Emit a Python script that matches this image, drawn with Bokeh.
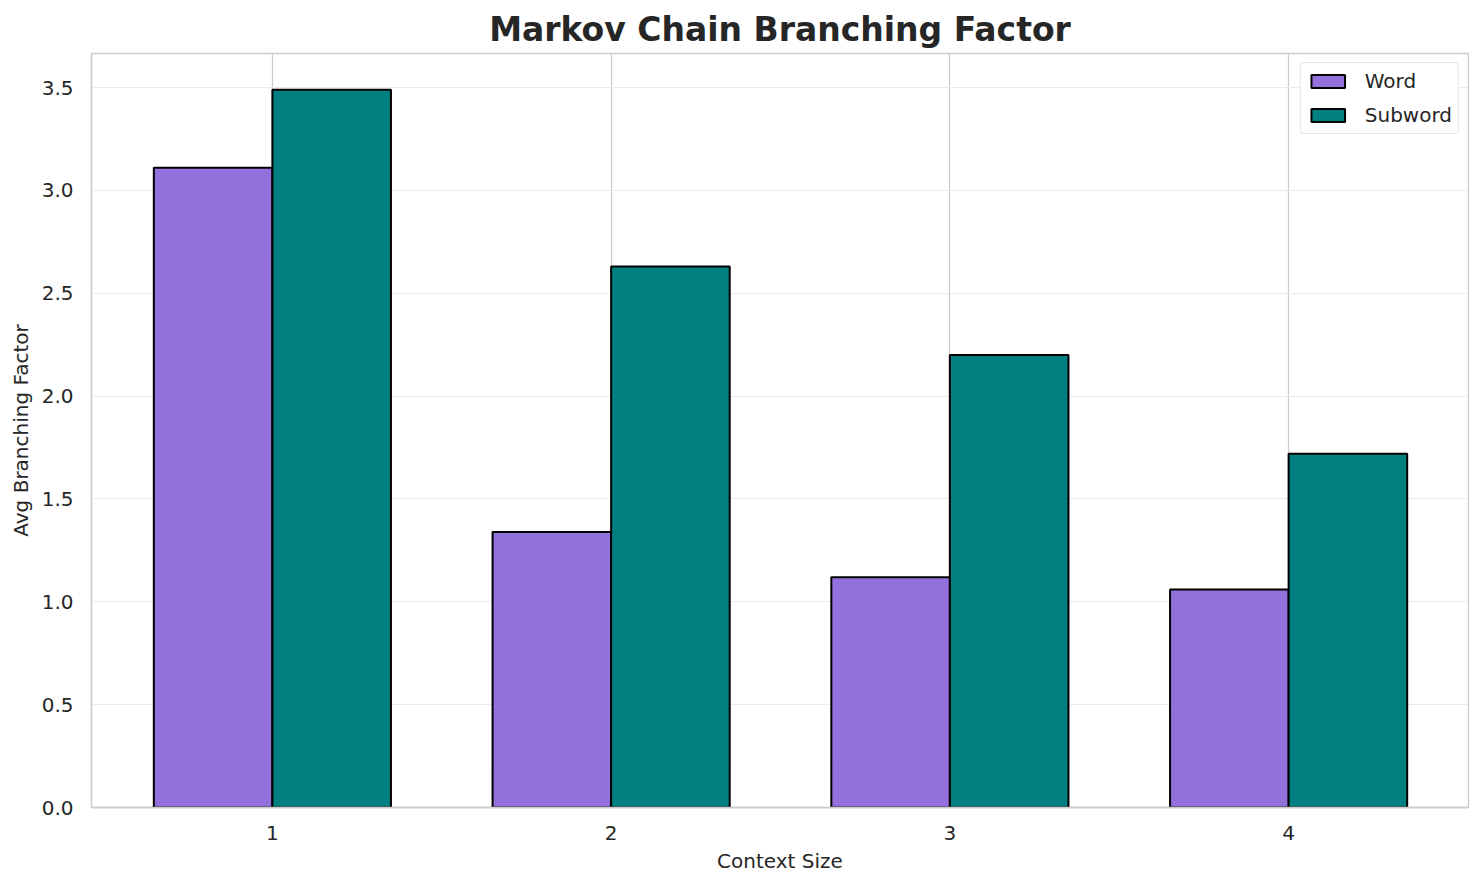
from bokeh.plotting import figure
from bokeh.models import Range1d, Legend, LegendItem, FixedTicker, CustomJSTickFormatter
from bokeh.embed import file_html
from bokeh.resources import INLINE

# Dane
context_sizes = [1, 2, 3, 4]
word_values = [3.11, 1.34, 1.12, 1.06]
subword_values = [3.49, 2.63, 2.20, 1.72]
y_ticks = [0, 0.5, 1.0, 1.5, 2.0, 2.5, 3.0, 3.5]
bar_width = 0.35

FONT = "DejaVu Sans"
TEXT = "#262626"

p = figure(frame_width=1377, frame_height=754,
           min_border_left=91, min_border_right=8,
           min_border_top=53, min_border_bottom=78,
           x_range=Range1d(0.466, 4.531), y_range=Range1d(0, 3.666),
           output_backend="svg", toolbar_location=None)

p.title.text = "Markov Chain Branching Factor"
p.title.align = "center"
p.title.text_font = FONT
p.title.text_font_size = "33px"
p.title.text_font_style = "bold"
p.title.text_color = TEXT
p.title.offset = 0

word_x = [c - bar_width / 2 for c in context_sizes]
sub_x = [c + bar_width / 2 for c in context_sizes]

r_word = p.vbar(x=word_x, top=word_values, width=bar_width, bottom=0,
                fill_color="#9370DB", line_color="black", line_width=2)
r_sub = p.vbar(x=sub_x, top=subword_values, width=bar_width, bottom=0,
               fill_color="#008080", line_color="black", line_width=2)

legend = Legend(items=[LegendItem(label="Word", renderers=[r_word]),
                       LegendItem(label="Subword", renderers=[r_sub])],
                location="top_right")
legend.label_text_font = FONT
legend.label_text_font_size = "20px"
legend.label_text_color = TEXT
legend.border_line_color = "#d0d0d0"
legend.border_radius = 4
legend.margin = 9
legend.padding = 6
legend.spacing = 10
legend.glyph_width = 42
legend.glyph_height = 16
legend.label_standoff = 16
p.add_layout(legend)

p.xaxis.ticker = FixedTicker(ticks=context_sizes)
p.yaxis.ticker = FixedTicker(ticks=y_ticks)
p.yaxis.formatter = CustomJSTickFormatter(code="return tick.toFixed(1);")

p.xaxis.axis_label = "Context Size"
p.yaxis.axis_label = "Avg Branching Factor"
for ax in (p.xaxis, p.yaxis):
    ax.axis_label_text_font = FONT
    ax.axis_label_text_font_size = "20px"
    ax.axis_label_text_font_style = "normal"
    ax.axis_label_text_color = TEXT
    ax.major_label_text_font = FONT
    ax.major_label_text_font_size = "20px"
    ax.major_label_text_color = TEXT
    ax.major_tick_line_color = None
    ax.minor_tick_line_color = None
    ax.axis_line_color = "#cccccc"
    ax.axis_line_width = 1.3
    ax.major_label_standoff = 12
    ax.axis_label_standoff = 6

p.xgrid.grid_line_color = "#cccccc"
p.xgrid.grid_line_width = 1.3
p.ygrid.grid_line_color = "#ebebeb"
p.ygrid.grid_line_width = 1
p.outline_line_color = "#cccccc"
p.outline_line_width = 1.3
p.background_fill_color = "white"

open("out.html", "w").write(file_html(p, INLINE))
